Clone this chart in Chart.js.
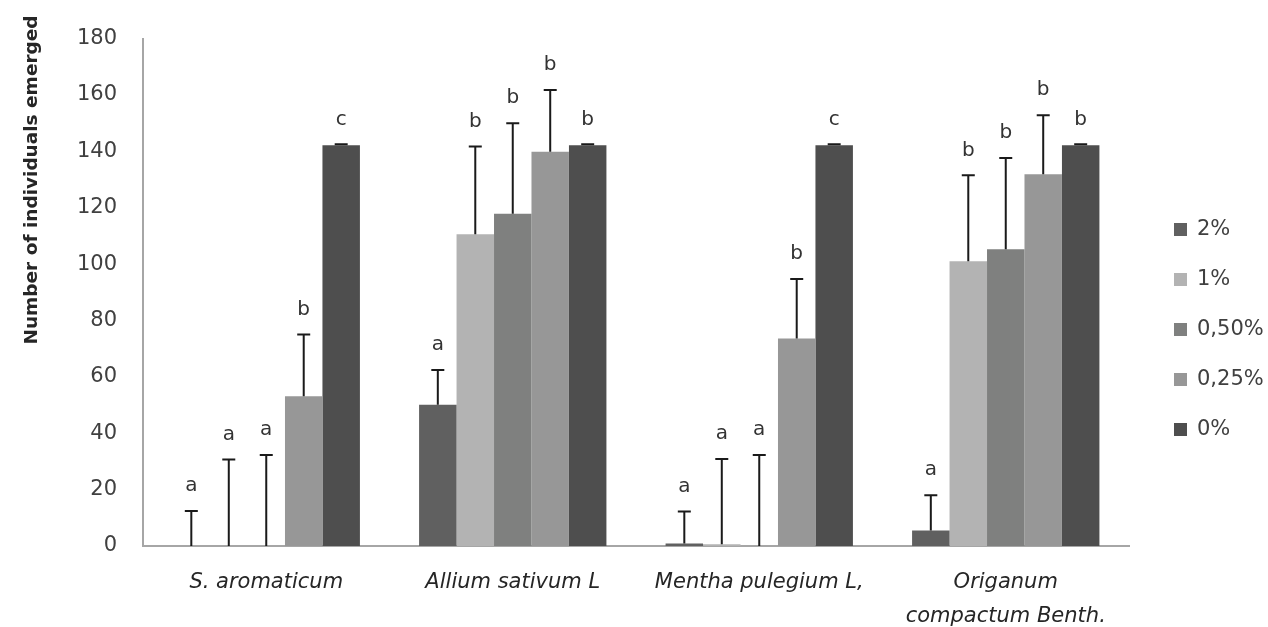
<!DOCTYPE html>
<html>
<head>
<meta charset="utf-8">
<script src="https://cdn.jsdelivr.net/npm/chart.js@4.4.1/dist/chart.umd.min.js"></script>
<style>
  html, body { margin: 0; padding: 0; background: #fff; }
  #wrap { width: 1268px; height: 627px; position: relative; }
</style>
</head>
<body>
<div id="wrap"><canvas id="chart"></canvas></div>
<script>
// === Data ===
const categories = ["S. aromaticum", "Allium sativum L", "Mentha pulegium L,", ["Origanum", "compactum Benth."]];
const seriesLabels = ["2%", "1%", "0,50%", "0,25%", "0%"];
const seriesColors = ["#606060", "#b3b3b3", "#7f807f", "#979797", "#4e4e4e"];

const values2 = [0, 50.1, 0.9, 5.5];
const values1 = [0, 110.6, 0.6, 101];
const values05 = [0, 117.9, 0, 105.3];
const values025 = [53.1, 139.9, 73.6, 131.9];
const values0 = [142.2, 142.2, 142.2, 142.2];

const err2 = [12.4, 12.3, 11.3, 12.5];
const err1 = [30.7, 31.1, 30.3, 30.5];
const err05 = [32.3, 32.1, 32.3, 32.3];
const err025 = [21.9, 21.9, 21.1, 20.9];
const err0 = [0.3, 0.3, 0.3, 0.3];

const letters2 = ["a", "a", "a", "a"];
const letters1 = ["a", "b", "a", "b"];
const letters05 = ["a", "b", "a", "b"];
const letters025 = ["b", "b", "b", "b"];
const letters0 = ["c", "b", "c", "b"];

const yTicks = [0, 20, 40, 60, 80, 100, 120, 140, 160, 180];
const yTitle = "Number of individuals emerged";

const allValues = [values2, values1, values05, values025, values0];
const allErrors = [err2, err1, err05, err025, err0];
const allLetters = [letters2, letters1, letters05, letters025, letters0];

const FONT = "'DejaVu Sans', sans-serif";

// === Error bars + significance letters ===
const errorBarPlugin = {
  id: "errorBars",
  afterDatasetsDraw(chart) {
    const { ctx, scales: { y } } = chart;
    ctx.save();
    chart.data.datasets.forEach((ds, di) => {
      const meta = chart.getDatasetMeta(di);
      meta.data.forEach((bar, i) => {
        const top = y.getPixelForValue(ds.data[i] + ds.errors[i]);
        const base = y.getPixelForValue(ds.data[i]);
        ctx.strokeStyle = "#1a1a1a";
        ctx.lineWidth = 2;
        ctx.beginPath();
        ctx.moveTo(bar.x, base);
        ctx.lineTo(bar.x, top);
        ctx.moveTo(bar.x - 6.5, top);
        ctx.lineTo(bar.x + 6.5, top);
        ctx.stroke();

        ctx.fillStyle = "#333";
        ctx.font = "20px " + FONT;
        ctx.textAlign = "center";
        ctx.textBaseline = "middle";
        ctx.fillText(ds.letters[i], bar.x, top - 25);
      });
    });
    ctx.restore();
  }
};

// === Y title + legend on the right ===
const decorPlugin = {
  id: "decor",
  afterDraw(chart) {
    const { ctx } = chart;
    ctx.save();
    ctx.translate(32, 180);
    ctx.rotate(-Math.PI / 2);
    ctx.fillStyle = "#262626";
    ctx.font = "bold 18.5px " + FONT;
    ctx.textAlign = "center";
    ctx.textBaseline = "middle";
    ctx.fillText(yTitle, 0, 0);
    ctx.restore();

    ctx.save();
    ctx.font = "21px " + FONT;
    ctx.textBaseline = "middle";
    ctx.textAlign = "left";
    chart.data.datasets.forEach((ds, i) => {
      const cy = 230 + i * 50;
      ctx.fillStyle = ds.backgroundColor;
      ctx.fillRect(1174, cy - 7, 13, 13);
      ctx.fillStyle = "#404040";
      ctx.fillText(ds.label, 1197, cy);
    });
    ctx.restore();
  }
};

const datasets = seriesLabels.map((label, i) => ({
  label,
  data: allValues[i],
  errors: allErrors[i],
  letters: allLetters[i],
  backgroundColor: seriesColors[i],
  borderWidth: 0,
  categoryPercentage: 0.76,
  barPercentage: 1.0,
}));

new Chart(document.getElementById("chart"), {
  type: "bar",
  data: { labels: categories, datasets },
  options: {
    responsive: true,
    maintainAspectRatio: false,
    animation: false,
    layout: { padding: { top: 38, right: 139, bottom: 0, left: 0 } },
    plugins: { legend: { display: false }, tooltip: { enabled: false } },
    scales: {
      x: {
        grid: { display: false, drawTicks: false },
        border: { color: "#a6a6a6", width: 2 },
        ticks: {
          color: "#262626",
          padding: 20,
          maxRotation: 0,
          autoSkip: false,
          font: { family: FONT, size: 21, style: "italic", lineHeight: 1.62 },
        },
        afterFit: (s) => { s.height = 81; },
      },
      y: {
        min: 0,
        max: 180,
        afterBuildTicks: (s) => { s.ticks = yTicks.map(v => ({ value: v })); },
        grid: { display: false, drawTicks: false },
        border: { color: "#a6a6a6", width: 2 },
        ticks: {
          color: "#404040",
          padding: 26,
          font: { family: FONT, size: 21 },
        },
        afterFit: (s) => { s.width = 143; },
      }
    }
  },
  plugins: [errorBarPlugin, decorPlugin]
});
</script>
</body>
</html>
